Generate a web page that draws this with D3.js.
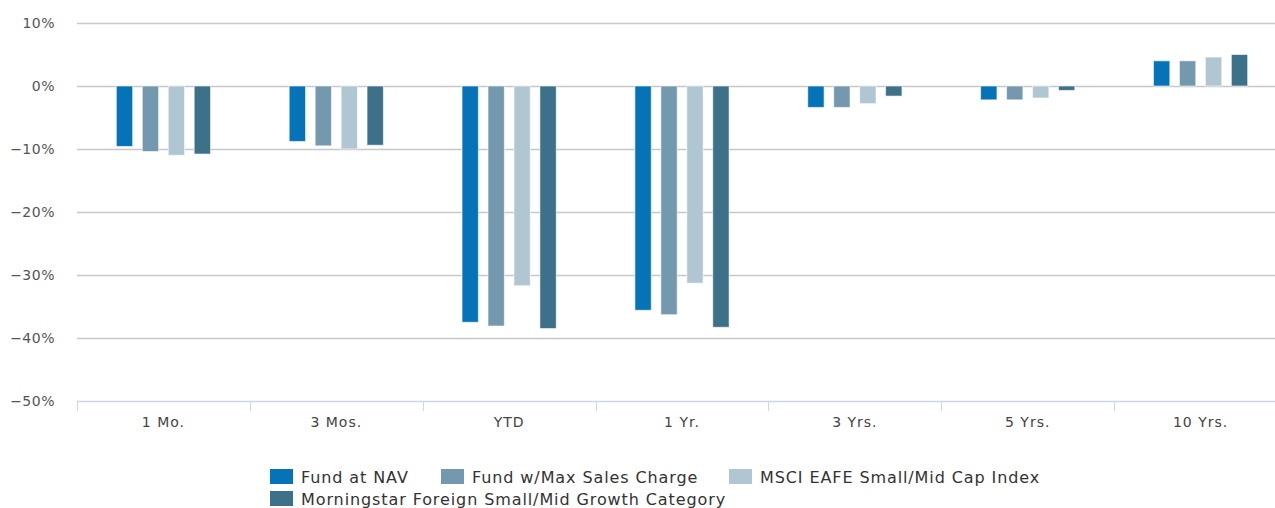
<!DOCTYPE html>
<html><head><meta charset="utf-8">
<script src="https://cdn.jsdelivr.net/npm/d3@7"></script>
<style>
body{margin:0;background:#fff;overflow:hidden}
text{font-family:"DejaVu Sans",Verdana,sans-serif}
</style></head>
<body><svg id="c" width="1275" height="508"></svg>
<script>
const categories = ["1 Mo.","3 Mos.","YTD","1 Yr.","3 Yrs.","5 Yrs.","10 Yrs."];
const seriesNames = ["Fund at NAV","Fund w/Max Sales Charge","MSCI EAFE Small/Mid Cap Index","Morningstar Foreign Small/Mid Growth Category"];
const fundNAV     = [-9.6, -8.8, -37.5, -35.6, -3.4, -2.2, 4.0];
const fundMax     = [-10.4, -9.5, -38.1, -36.3, -3.4, -2.2, 4.0];
const msciIndex   = [-11.0, -10.0, -31.7, -31.3, -2.8, -1.9, 4.6];
const morningstar = [-10.8, -9.4, -38.5, -38.3, -1.6, -0.7, 5.0];
const yTicks = [10, 0, -10, -20, -30, -40, -50];
const colors = ["#0673b9","#7499ae","#b0c6d3","#3d7189"];
const seriesValues = [fundNAV, fundMax, msciIndex, morningstar];

const svg = d3.select("#c");
const x0 = 77, x1 = 1287, yTop = 23, yBot = 401;
const x = d3.scaleBand().domain(categories).range([x0, x1]).paddingInner(0).paddingOuter(0);
const y = d3.scaleLinear().domain([-50, 10]).range([yBot, yTop]);
const bw = x.bandwidth();
const inner = d3.scaleBand().domain(d3.range(4)).range([bw*0.2275, bw*0.7725]).paddingInner(0.37);

// gridlines
svg.append("g").selectAll("line").data(yTicks.filter(t => t > -50)).join("line")
  .attr("x1", x0).attr("x2", 1275).attr("y1", d => Math.round(y(d))+0.5).attr("y2", d => Math.round(y(d))+0.5)
  .attr("stroke", "#c8c8c8").attr("stroke-width", 1.5);

// y labels
svg.append("g").selectAll("text").data(yTicks).join("text")
  .attr("x", 55).attr("y", d => y(d)+5).attr("text-anchor","end")
  .attr("fill","#555").attr("font-size",14).attr("letter-spacing","0.5px")
  .text(d => (d < 0 ? "\u2212" + Math.abs(d) : d) + "%");

// bars
const g = svg.append("g");
categories.forEach((c, ci) => {
  seriesValues.forEach((vals, si) => {
    const v = vals[ci];
    const bx = x(c) + inner(si);
    g.append("rect")
      .attr("x", bx).attr("width", inner.bandwidth())
      .attr("y", y(Math.max(0, v))).attr("height", Math.abs(y(v) - y(0)))
      .attr("fill", colors[si]).attr("stroke", "#fff").attr("stroke-opacity", 0.6).attr("stroke-width", 1);
  });
});

// x axis line and ticks
svg.append("line").attr("x1", x0).attr("x2", 1275).attr("y1", yBot+0.5).attr("y2", yBot+0.5)
  .attr("stroke","#ccd6eb").attr("stroke-width",1.5);
svg.append("g").selectAll("line").data(categories).join("line")
  .attr("x1", d => Math.round(x(d))+0.5).attr("x2", d => Math.round(x(d))+0.5)
  .attr("y1", yBot).attr("y2", yBot+10).attr("stroke","#ccd6eb").attr("stroke-width",1);
svg.append("g").selectAll("text").data(categories).join("text")
  .attr("x", d => x(d) + bw/2).attr("y", 427).attr("text-anchor","middle")
  .attr("fill","#444").attr("font-size",14).attr("letter-spacing","1px")
  .text(d => d);

// legend
const legendPos = [[270,469],[441,469],[729,469],[270,491]];
const lg = svg.append("g");
seriesNames.forEach((n, i) => {
  const [lx, ly] = legendPos[i];
  lg.append("rect").attr("x", lx).attr("y", ly).attr("width",23).attr("height",15).attr("fill", colors[i]);
  lg.append("text").attr("x", lx+31).attr("y", ly+14).attr("fill","#333").attr("font-size",16)
    .attr("letter-spacing","0.9px").text(n);
});
</script></body></html>
